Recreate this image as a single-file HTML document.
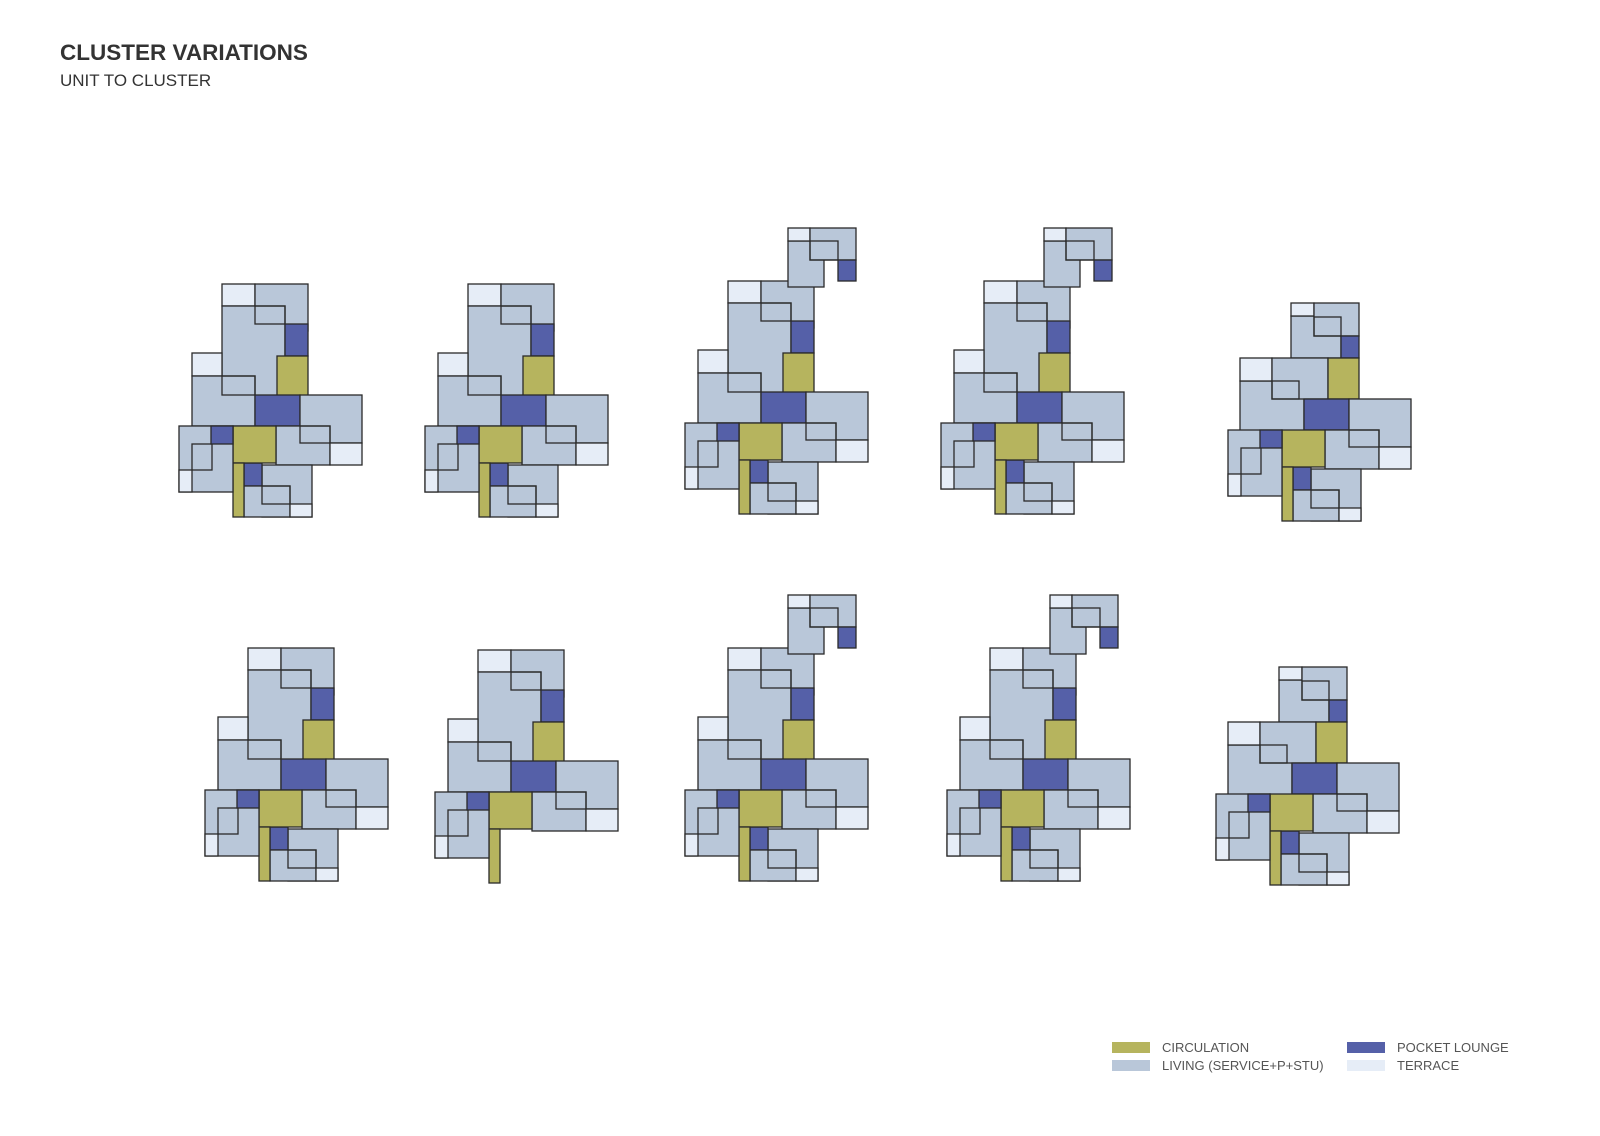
<!DOCTYPE html>
<html><head><meta charset="utf-8"><style>
body{margin:0;background:#fff;width:1600px;height:1131px;overflow:hidden;font-family:"Liberation Sans",sans-serif}
</style></head><body>
<svg width="1600" height="1131" viewBox="0 0 1600 1131" xmlns="http://www.w3.org/2000/svg">
<defs>
<g id="up" stroke="#2a2a2a" stroke-width="1.3">
<rect x="222" y="284" width="33" height="22" fill="#e6edf7"/>
<rect x="255" y="284" width="53" height="47" fill="#b9c7d9"/>
<rect x="222" y="306" width="63" height="96" fill="#b9c7d9"/>
<rect x="255" y="306" width="30" height="18" fill="none"/>
<rect x="285" y="324" width="23" height="32" fill="#5560a8"/>
<rect x="277" y="356" width="31" height="40" fill="#b6b45e"/>
<rect x="192" y="353" width="30" height="23" fill="#e6edf7"/>
<rect x="192" y="376" width="63" height="50" fill="#b9c7d9"/>
<rect x="222" y="376" width="33" height="19" fill="none"/>
</g>
<g id="mid" stroke="#2a2a2a" stroke-width="1.3">
<rect x="255" y="395" width="45" height="31" fill="#5560a8"/>
<rect x="300" y="395" width="62" height="48" fill="#b9c7d9"/>
<rect x="276" y="426" width="54" height="39" fill="#b9c7d9"/>
<rect x="300" y="426" width="30" height="17" fill="none"/>
<rect x="330" y="443" width="32" height="22" fill="#e6edf7"/>
</g>
<g id="foot" stroke="#2a2a2a" stroke-width="1.3">
<rect x="262" y="465" width="50" height="52" fill="#b9c7d9"/>
<rect x="244" y="463" width="18" height="23" fill="#5560a8"/>
<rect x="244" y="486" width="46" height="31" fill="#b9c7d9"/>
<rect x="262" y="486" width="28" height="18" fill="none"/>
<rect x="290" y="504" width="22" height="13" fill="#e6edf7"/>
</g>
<g id="low" stroke="#2a2a2a" stroke-width="1.3">
<rect x="233" y="426" width="43" height="37" fill="#b6b45e"/>
<rect x="233" y="463" width="11" height="54" fill="#b6b45e"/>
<rect x="179" y="426" width="54" height="66" fill="#b9c7d9"/>
<rect x="192" y="444" width="20" height="26" fill="none"/>
<rect x="211" y="426" width="22" height="18" fill="#5560a8"/>
<rect x="179" y="470" width="13" height="22" fill="#e6edf7"/>
</g>
<g id="base"><use href="#up"/><use href="#mid"/><use href="#foot"/><use href="#low"/></g>
<g id="ext" stroke="#2a2a2a" stroke-width="1.3">
<rect x="282" y="244" width="36" height="46" fill="#b9c7d9"/>
<rect x="282" y="231" width="22" height="13" fill="#e6edf7"/>
<rect x="304" y="231" width="46" height="32" fill="#b9c7d9"/>
<rect x="304" y="244" width="28" height="19" fill="none"/>
<rect x="332" y="263" width="18" height="21" fill="#5560a8"/>
</g>
<g id="c5up" stroke="#2a2a2a" stroke-width="1.3">
<rect x="1291" y="316" width="50" height="42" fill="#b9c7d9"/>
<rect x="1291" y="303" width="23" height="13" fill="#e6edf7"/>
<rect x="1314" y="303" width="45" height="33" fill="#b9c7d9"/>
<rect x="1314" y="317" width="27" height="19" fill="none"/>
<rect x="1341" y="336" width="18" height="22" fill="#5560a8"/>
<rect x="1240" y="381" width="64" height="51" fill="#b9c7d9"/>
<rect x="1240" y="358" width="32" height="23" fill="#e6edf7"/>
<rect x="1272" y="358" width="56" height="41" fill="#b9c7d9"/>
<rect x="1272" y="381" width="27" height="18" fill="none"/>
<rect x="1328" y="358" width="31" height="41" fill="#b6b45e"/>
</g>
</defs>
<text x="60" y="60" font-size="22.5" font-weight="bold" fill="#333">CLUSTER VARIATIONS</text>
<text x="60" y="86" font-size="17" fill="#333">UNIT TO CLUSTER</text>
<use href="#base"/>
<use href="#base" transform="translate(246,0)"/>
<g transform="translate(506,-3)"><use href="#base"/><use href="#ext"/></g>
<g transform="translate(762,-3)"><use href="#base"/><use href="#ext"/></g>
<use href="#c5up"/>
<g transform="translate(1049,4)"><use href="#mid"/><use href="#foot"/><use href="#low"/></g>
<use href="#base" transform="translate(26,364)"/>
<g transform="translate(256,366)"><use href="#up"/><use href="#mid"/><use href="#low"/></g>
<g transform="translate(506,364)"><use href="#base"/><use href="#ext"/></g>
<g transform="translate(768,364)"><use href="#base"/><use href="#ext"/></g>
<use href="#c5up" transform="translate(-12,364)"/>
<g transform="translate(1037,368)"><use href="#mid"/><use href="#foot"/><use href="#low"/></g>
<g font-size="13" fill="#555">
<rect x="1112" y="1042" width="38" height="11" fill="#b6b45e"/>
<text x="1162" y="1052">CIRCULATION</text>
<rect x="1112" y="1060" width="38" height="11" fill="#b9c7d9"/>
<text x="1162" y="1070">LIVING (SERVICE+P+STU)</text>
<rect x="1347" y="1042" width="38" height="11" fill="#5560a8"/>
<text x="1397" y="1052">POCKET LOUNGE</text>
<rect x="1347" y="1060" width="38" height="11" fill="#e6edf7"/>
<text x="1397" y="1070">TERRACE</text>
</g>
</svg>
</body></html>
